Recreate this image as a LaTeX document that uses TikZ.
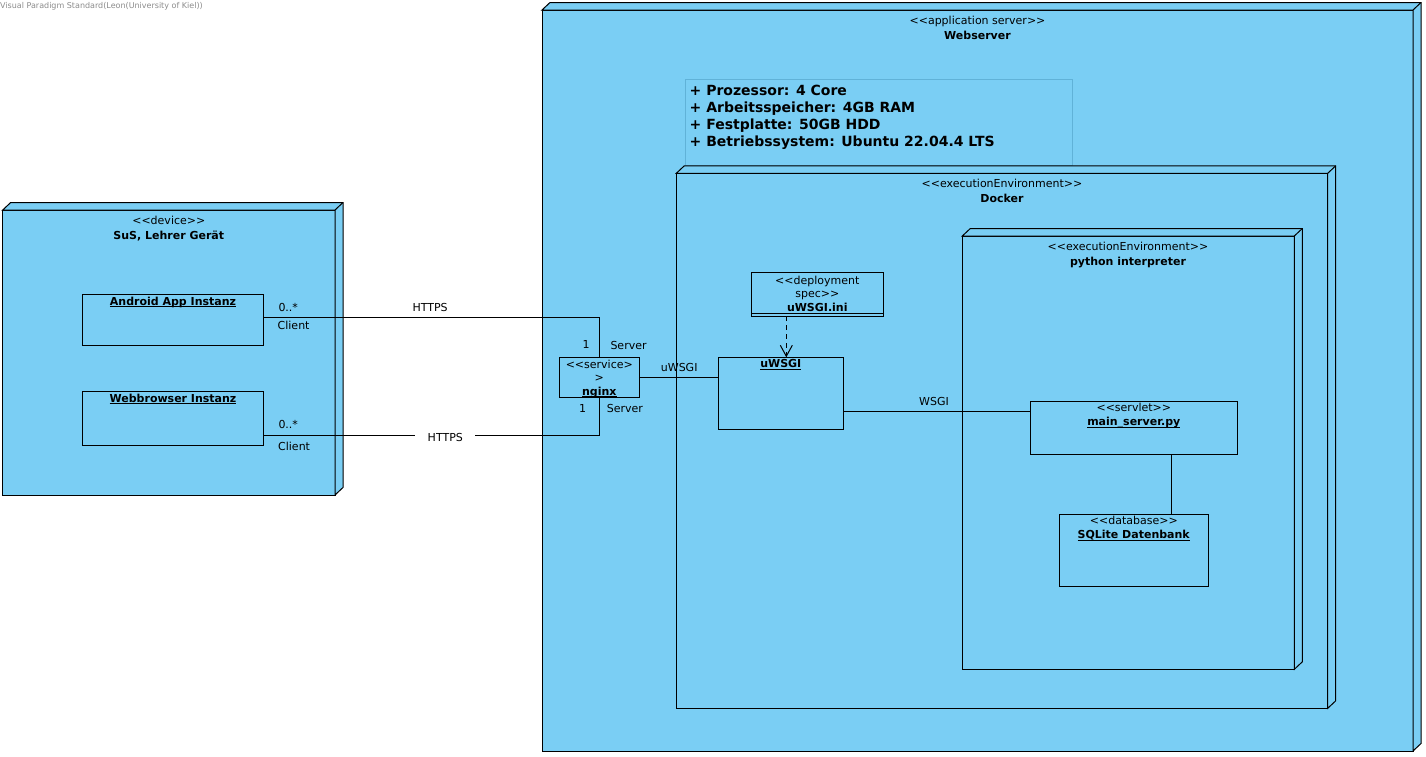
\documentclass[tikz,border=0pt]{standalone}
\usepackage{fontspec}
\setmainfont{DejaVu Sans}
\usetikzlibrary{arrows.meta}
\definecolor{vpblue}{RGB}{122,206,244}
\definecolor{noteborder}{RGB}{96,178,216}
\definecolor{wmgray}{RGB}{140,140,140}
\newcommand\nodedepth[1]{%
  \filldraw[fill=vpblue,line width=1pt,line join=miter]
    (#1.north west) -- ([shift={(8,-7.5)}]#1.north west)
    -- ([shift={(8,-7.5)}]#1.north east) -- ([shift={(8,-7.5)}]#1.south east)
    -- (#1.south east) -- (#1.north east) -- cycle;
  \draw[line width=1pt] (#1.north east) -- ([shift={(8,-7.5)}]#1.north east);}
\newcommand\ulbf[1]{\underline{\smash{\textbf{#1}}}}
\newcommand\vplt{<\kern0pt<}
\newcommand\vpgt{>\kern0pt>}
\tikzset{
  vpbox/.style={draw,fill=vpblue,line width=1pt,inner sep=0pt,outer sep=0pt,anchor=north west},
  txt/.style={anchor=base,inner sep=0pt,font=\fontsize{11}{13}\selectfont},
  txtw/.style={txt,anchor=base west},
  notetxt/.style={anchor=base west,inner sep=0pt,font=\fontsize{14}{17}\selectfont\bfseries},
  conn/.style={line width=1pt},
  depconn/.style={line width=1pt,dash pattern=on 5pt off 4pt,-{Straight Barb[length=11pt,width=12pt,line width=1pt]}},
}
\begin{document}
\begin{tikzpicture}[x=1pt,y=-1pt]
\useasboundingbox (0,0) rectangle (1426,756);
\fill[white] (0,0) rectangle (1426,756);
\node[anchor=base west,inner sep=0pt,text=wmgray,font=\fontsize{8}{9}\selectfont] (wm) at (0,8.5) {Visual Paradigm Standard(Leon(University of Kiel))};

% Webserver
\node[vpbox,minimum width=871pt,minimum height=741pt] (web) at (542,10) {};
\nodedepth{web}
\node[txt] (webst) at (977.5,24) {\vplt application server\vpgt};
\node[txt] (webnm) at (977.5,39) {\textbf{Webserver}};

% note
\node[draw=noteborder,fill=vpblue,line width=0.8pt,inner sep=0pt,anchor=north west,minimum width=387pt,minimum height=86pt] (note) at (685,79.3) {};
\node[notetxt] (n1) at (689.5,95) {+ Prozessor: 4 Core};
\node[notetxt] (n2) at (689.5,112) {+ Arbeitsspeicher: 4GB RAM};
\node[notetxt] (n3) at (689.5,129) {+ Festplatte: 50GB HDD};
\node[notetxt] (n4) at (689.5,146) {+ Betriebssystem: Ubuntu 22.04.4 LTS};

% Docker
\node[vpbox,minimum width=651.4pt,minimum height=535pt] (docker) at (676.3,173.3) {};
\nodedepth{docker}
\node[txt] (dockst) at (1002,187.5) {\vplt executionEnvironment\vpgt};
\node[txt] (docknm) at (1002,202) {\textbf{Docker}};

% python interpreter
\node[vpbox,minimum width=332pt,minimum height=433.3pt] (py) at (962.3,236) {};
\nodedepth{py}
\node[txt] (pyst) at (1128,250.5) {\vplt executionEnvironment\vpgt};
\node[txt] (pynm) at (1128,265) {\textbf{python interpreter}};

% uWSGI.ini
\node[vpbox,minimum width=132pt,minimum height=43.3pt] (ini) at (751.3,272.7) {};
\draw[conn] ([yshift=2.7pt]ini.south west) -- ([yshift=2.7pt]ini.south east);
\node[txt] (ini1) at (817.3,284) {\vplt deployment};
\node[txt] (ini2) at (817.3,297.5) {spec\vpgt};
\node[txt] (ini3) at (817.3,311) {\textbf{uWSGI.ini}};

% nginx
\node[vpbox,minimum width=80pt,minimum height=40pt] (nginx) at (559.3,357.3) {};
\node[txt] (ng1) at (599.3,368.3) {\vplt service>};
\node[txt] (ng2) at (599.3,381.7) {>};
\node[txt] (ng3) at (599.3,395) {\ulbf{nginx}};

% uWSGI
\node[vpbox,minimum width=125pt,minimum height=72pt] (uwsgi) at (718.3,357.3) {};
\node[txt] (uw1) at (780.8,367.3) {\ulbf{uWSGI}};

% main_server.py
\node[vpbox,minimum width=207pt,minimum height=52.3pt] (main) at (1030.3,401.7) {};
\node[txt] (ms1) at (1133.8,411.7) {\vplt servlet\vpgt};
\node[txt] (ms2) at (1133.8,425.3) {\ulbf{main\_server.py}};

% SQLite
\node[vpbox,minimum width=149pt,minimum height=71.3pt] (db) at (1059.3,514.7) {};
\node[txt] (db1) at (1133.8,524.3) {\vplt database\vpgt};
\node[txt] (db2) at (1133.8,538.7) {\ulbf{SQLite Datenbank}};

% Device
\node[vpbox,minimum width=332.3pt,minimum height=285pt] (dev) at (2.7,210) {};
\nodedepth{dev}
\node[txt] (devst) at (168.8,224) {\vplt device\vpgt};
\node[txt] (devnm) at (168.8,239) {\textbf{SuS, Lehrer Gerät}};

\node[vpbox,minimum width=180.6pt,minimum height=51pt] (android) at (82.7,294) {};
\node[txt] (an1) at (173,305) {\ulbf{Android App Instanz}};
\node[vpbox,minimum width=180.6pt,minimum height=53.6pt] (browser) at (82.7,391.7) {};
\node[txt] (br1) at (173,402) {\ulbf{Webbrowser Instanz}};

% connectors
\draw[conn] ([yshift=2pt]android.east) -| (nginx.north);
\draw[conn] ([yshift=-16.8pt]browser.east) -| (nginx.south);
\draw[conn] (nginx.east) -- (nginx.east -| uwsgi.west);
\coordinate (mainin) at ([yshift=16.8pt]main.west);
\draw[conn] (uwsgi.east |- mainin) -- (mainin);
\coordinate (mdx) at ([xshift=38pt]main.south);
\draw[conn] (mdx) -- (mdx |- db.north);
\coordinate (dsx) at ([xshift=-31pt]ini.south);
\draw[depconn] (dsx) -- (dsx |- uwsgi.north);

% connector labels
\node[txtw] (l1) at (278.3,311.7) {0..*};
\node[txtw] (l2) at (277.5,329) {Client};
\node[txtw] (l3) at (412.3,311.7) {HTTPS};
\node[txtw] (l4) at (582.3,348.7) {1};
\node[txtw] (l5) at (610.3,349) {Server};
\node[txtw] (l6) at (278.3,428.3) {0..*};
\node[txtw] (l7) at (278,450.7) {Client};
\node[txt,fill=white,inner xsep=12.5pt,inner ysep=1pt] (l8) at (445.3,441.7) {HTTPS};
\node[txtw] (l9) at (579,412.3) {1};
\node[txtw] (l10) at (606.7,412.3) {Server};
\node[txtw] (l11) at (660.7,371.7) {uWSGI};
\node[txt] (l12) at (934,405.5) {WSGI};
\end{tikzpicture}
\end{document}
